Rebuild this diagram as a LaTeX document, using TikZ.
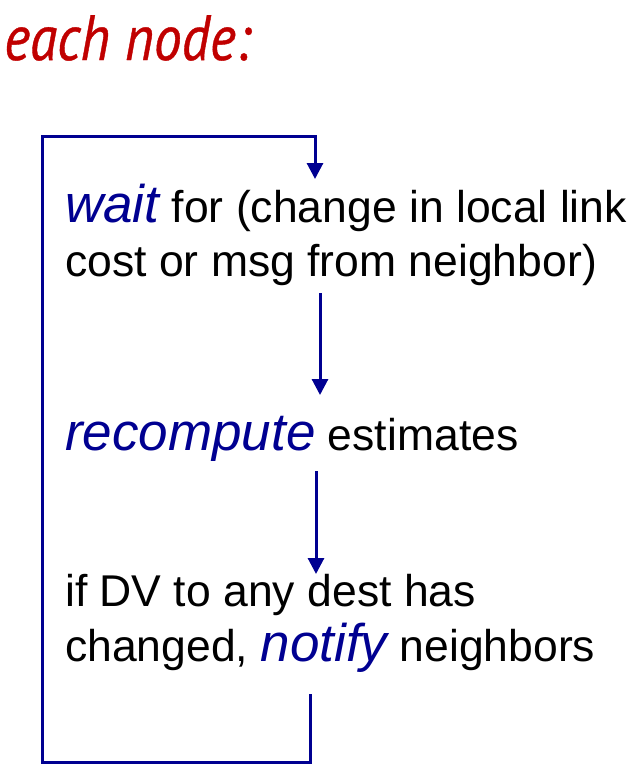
\documentclass[tikz,border=0pt]{standalone}
\usepackage{fontspec}
\setmainfont{Liberation Sans}
\newfontfamily\titlefont[FakeStretch=0.87,FakeBold=0.6]{PT Sans}
\usetikzlibrary{arrows.meta}
\definecolor{ttred}{RGB}{192,0,0}
\definecolor{navyblue}{RGB}{0,0,145}
\newcommand\kw[1]{{\color{navyblue}\itshape\fontsize{53}{53}\selectfont #1}}
\tikzset{
  body/.style={anchor=base west, inner sep=0pt, font=\fontsize{44.5}{53}\selectfont, text=black},
  flow/.style={draw=navyblue, line width=3pt, line join=miter, -{Triangle[width=16pt,length=16pt]}},
}
\begin{document}
\begin{tikzpicture}[x=1pt,y=-1pt]
\useasboundingbox (0,0) rectangle (628,774);
\node[anchor=base west, inner sep=0pt, text=ttred, font=\titlefont\itshape\fontsize{64}{64}\selectfont] (title) at (4,60) {each node:};

\node[body] (w1) at (65,222) {\kw{wait} for (change in local link};
\node[body] (w2) at (65,276) {cost or msg from neighbor)};
\node[body] (r1) at (65,450) {\kw{recompute} estimates};
\node[body] (n1) at (65,606) {if DV to any dest has};
\node[body] (n2) at (65,661) {changed, \kw{notify} neighbors};

\coordinate (a1s) at (320,293);
\coordinate (a1e) at (320,395);
\coordinate (a2s) at (316,471);
\coordinate (a2e) at (316,574);
\coordinate (ls) at (310,694);
\coordinate (lbr) at (310,762);
\coordinate (lbl) at (42,762);
\coordinate (ltl) at (42,136);
\coordinate (ltr) at (315,136);
\coordinate (le) at (315,179);

\draw[flow] (a1s) -- (a1e);
\draw[flow] (a2s) -- (a2e);
\draw[flow] (ls) -- (lbr) -- (lbl) -- (ltl) -- (ltr) -- (le);
\end{tikzpicture}
\end{document}
